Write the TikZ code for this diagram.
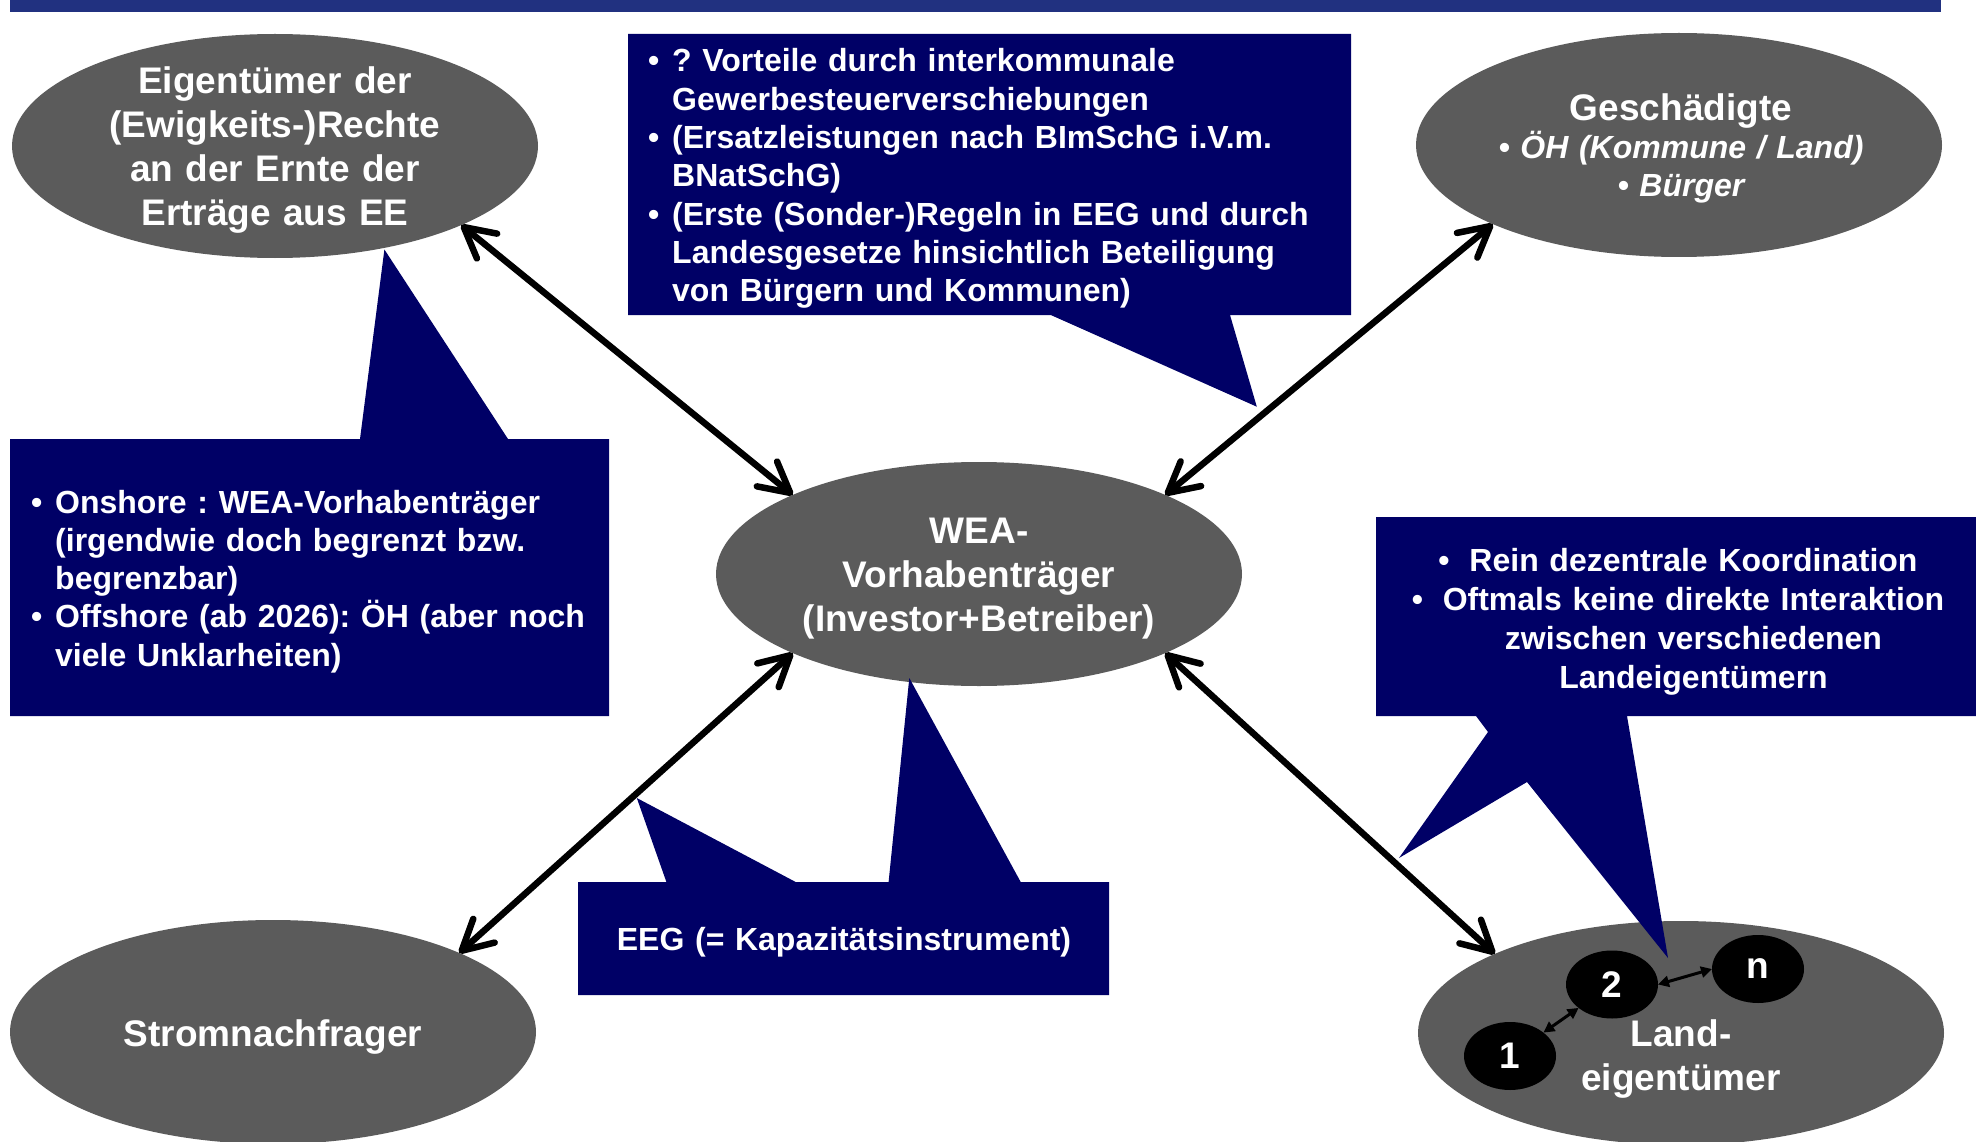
\documentclass[tikz,border=0pt]{standalone}
\usepackage{fontspec}
\setmainfont{Liberation Sans}
\usetikzlibrary{arrows.meta,shapes.geometric}
\definecolor{blobgray}{RGB}{91,91,91}
\definecolor{boxnavy}{RGB}{0,0,102}
\definecolor{barblue}{RGB}{33,49,128}
\newcommand\itemdot{\makebox[24pt][l]{•}}
\newcommand\itemgap{\hspace*{24pt}}
\newcommand\wideitemdot{\makebox[31pt][l]{•}}
\frenchspacing
\tikzset{
  bigbarb/.tip={Straight Barb[length=30pt,width=32pt,round]},
  smalltri/.tip={Triangle[length=11pt,width=11pt]},
}
\begin{document}
\begin{tikzpicture}[x=1pt,y=-1pt,
  blob/.style={ellipse, fill=blobgray, minimum width=526pt, minimum height=224pt, inner sep=0pt, outer sep=0pt},
  dot/.style={ellipse, fill=black, minimum width=92pt, minimum height=68pt, inner sep=0pt, outer sep=0pt,
    text=white, font=\fontsize{37}{44}\selectfont\bfseries},
  bigtxt/.style={text=white, font=\fontsize{37}{44}\selectfont\bfseries\frenchspacing, align=center, text width=520pt, inner sep=0pt, anchor=base},
  boxtxt/.style={text=white, font=\fontsize{32}{38.3}\selectfont\bfseries\frenchspacing, align=left, inner sep=0pt, anchor=base west},
  callout/.style={fill=boxnavy},
  biarrow/.style={line width=6.5pt, arrows={bigbarb-bigbarb}},
  smallarrow/.style={line width=3pt, arrows={smalltri-smalltri}},
]
\useasboundingbox (0,0) rectangle (1976,1142);

% title bar
\fill[barblue] (10,0) rectangle (1941,11.7);

% actors
\node[blob] (eig)  at (275,146)  {};
\node[blob] (ges)  at (1679,145) {};
\node[blob] (wea)  at (979,574)  {};
\node[blob] (str)  at (273,1032) {};
\node[blob] (land) at (1681,1033) {};

% callout boxes with their pointers
\fill[callout] (628,34) -- (1351,34) -- (1351,315) -- (1230,315) -- (1256.8,406.7)
  -- (1050.8,315) -- (628,315) -- cycle;
\fill[callout] (10,439) -- (360,439) -- (384.4,249.5) -- (508,439) -- (609,439)
  -- (609,716) -- (10,716) -- cycle;
\fill[callout] (1376,517) -- (1976,517) -- (1976,716) -- (1627,716) -- (1668,958)
  -- (1527,782) -- (1399,858) -- (1488,732) -- (1476,716) -- (1376,716) -- cycle;
\fill[callout] (578,882) -- (666.4,882) -- (636.8,798) -- (795.7,882) -- (888.6,882)
  -- (909.3,678) -- (1020.7,882) -- (1109,882) -- (1109,995) -- (578,995) -- cycle;

% actor labels
\node[bigtxt] (eigt) at (275,94) {Eigentümer der\\(Ewigkeits-)Rechte\\an der Ernte der\\Erträge aus EE};
\node[bigtxt] (gest) at (1681,121) {Geschädigte};
\node[bigtxt, font=\fontsize{32}{38.5}\selectfont\bfseries\itshape] (gesb) at (1681,158.5)
  {• ÖH (Kommune / Land)\\• Bürger};
\node[bigtxt] (weat) at (979,543.5) {WEA-\\Vorhabenträger\\(Investor+Betreiber)};
\node[bigtxt] (strt) at (273,1046.5) {Stromnachfrager};
\node[bigtxt] (landt) at (1681,1046.5) {Land-\\eigentümer};

% land owners
\node[dot] (c1) at (1510,1056)  {1};
\node[dot] (c2) at (1612,984.5) {2};
\node[dot] (cn) at (1758,969)   {n};
\draw[smallarrow] (c1) -- (c2);
\draw[smallarrow] (c2.east) -- (cn.west);

% callout texts
\node[boxtxt, text width=690pt] (atxt) at (648,72)
  {\itemdot ? Vorteile durch interkommunale\\
   \itemgap Gewerbesteuerverschiebungen\\
   \itemdot (Ersatzleistungen nach BImSchG i.V.m.\\
   \itemgap BNatSchG)\\
   \itemdot (Erste (Sonder-)Regeln in EEG und durch\\
   \itemgap Landesgesetze hinsichtlich Beteiligung\\
   \itemgap von Bürgern und Kommunen)};
\node[boxtxt, text width=570pt] (btxt) at (31,513)
  {\itemdot Onshore : WEA-Vorhabenträger\\
   \itemgap (irgendwie doch begrenzt bzw.\\
   \itemgap begrenzbar)\\
   \itemdot Offshore (ab 2026): ÖH (aber noch\\
   \itemgap viele Unklarheiten)};
\node[bigtxt, text width=600pt, font=\fontsize{32}{39}\selectfont\bfseries\frenchspacing] (ctxt) at (1678,571)
  {\wideitemdot Rein dezentrale Koordination\\
   \wideitemdot Oftmals keine direkte Interaktion\\
   \hspace*{31pt}zwischen verschiedenen\\
   \hspace*{31pt}Landeigentümern};
\node[bigtxt, font=\fontsize{32}{38.3}\selectfont\bfseries\frenchspacing] (dtxt) at (844,950)
  {EEG (= Kapazitätsinstrument)};

% relations
\draw[biarrow] (eig.-23) -- (wea.157);
\draw[biarrow] (ges.203) -- (wea.23);
\draw[biarrow] (wea.203) -- (str.23);
\draw[biarrow] (wea.-23) -- (land.157);
\end{tikzpicture}
\end{document}
